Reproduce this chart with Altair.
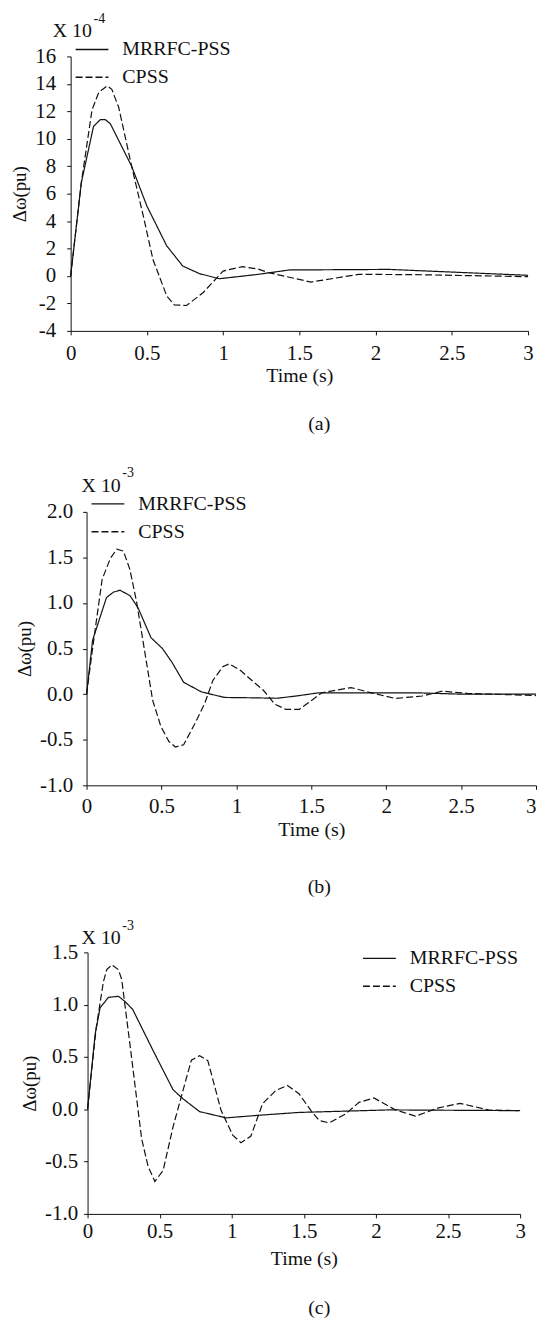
import altair as alt
import pandas as pd

FONT = "Liberation Serif"
INK = "#111111"
SERIES = ["MRRFC-PSS", "CPSS"]
X_TICKS = [0, 0.5, 1, 1.5, 2, 2.5, 3]

# ---------------- panel (a)  (x 10^-4) ----------------
a_t_mrrfc = [0, 0.07, 0.15, 0.195, 0.227, 0.26, 0.40, 0.50, 0.63, 0.735, 0.845, 0.975, 1.23, 1.435, 2.09, 3.0]
a_v_mrrfc = [0, 6.8, 10.9, 11.4, 11.4, 11.1, 8.0, 5.1, 2.2, 0.73, 0.17, -0.2, 0.12, 0.44, 0.48, 0.05]
a_t_cpss = [0, 0.07, 0.14, 0.185, 0.24, 0.27, 0.315, 0.40, 0.476, 0.54, 0.63, 0.68, 0.76, 0.87,
            1.0, 1.125, 1.23, 1.30, 1.576, 1.89, 2.26, 3.0]
a_v_cpss = [0, 6.8, 12.1, 13.4, 13.85, 13.6, 12.3, 8.0, 4.4, 1.2, -1.45, -2.1, -2.15, -1.2,
            0.36, 0.68, 0.5, 0.24, -0.44, 0.12, 0.1, -0.05]
a_yticks = [-4, -2, 0, 2, 4, 6, 8, 10, 12, 14, 16]

# ---------------- panel (b)  (x 10^-3) ----------------
b_t_mrrfc = [0, 0.04, 0.133, 0.18, 0.224, 0.29, 0.343, 0.43, 0.507, 0.57, 0.648, 0.767, 0.92,
             1.115, 1.27, 1.40, 1.55, 2.2, 2.5, 3.0]
b_v_mrrfc = [0, 0.59, 1.06, 1.12, 1.14, 1.08, 0.95, 0.62, 0.50, 0.35, 0.13, 0.025, -0.036,
             -0.04, -0.045, -0.02, 0.015, 0.015, 0.0, 0.0]
b_t_cpss = [0, 0.05, 0.104, 0.159, 0.202, 0.246, 0.289, 0.333, 0.387, 0.441, 0.496, 0.55, 0.593,
            0.648, 0.724, 0.789, 0.843, 0.909, 0.952, 1.028, 1.104, 1.18, 1.257, 1.33, 1.42,
            1.57, 1.766, 1.90, 2.06, 2.24, 2.375, 2.55, 2.85, 3.0]
b_v_cpss = [0, 0.62, 1.26, 1.49, 1.59, 1.57, 1.37, 1.02, 0.48, -0.065, -0.355, -0.52, -0.58,
            -0.555, -0.32, -0.10, 0.15, 0.30, 0.333, 0.26, 0.15, 0.043, -0.11, -0.167, -0.167,
            0.015, 0.072, 0.015, -0.047, -0.02, 0.033, 0.007, -0.007, -0.015]
b_yticks = [-1.0, -0.5, 0.0, 0.5, 1.0, 1.5, 2.0]

# ---------------- panel (c)  (x 10^-3) ----------------
c_t_mrrfc = [0, 0.053, 0.087, 0.145, 0.214, 0.26, 0.313, 0.455, 0.593, 0.662, 0.777, 0.96,
             1.19, 1.466, 2.09, 3.0]
c_v_mrrfc = [0, 0.72, 0.97, 1.07, 1.08, 1.03, 0.955, 0.56, 0.187, 0.10, -0.022, -0.082,
             -0.057, -0.03, -0.006, -0.013]
c_t_cpss = [0, 0.06, 0.11, 0.133, 0.168, 0.214, 0.237, 0.294, 0.375, 0.42, 0.467, 0.524, 0.593,
            0.662, 0.72, 0.777, 0.834, 0.926, 1.007, 1.064, 1.133, 1.214, 1.306, 1.386, 1.466,
            1.55, 1.607, 1.676, 1.79, 1.883, 1.986, 2.136, 2.274, 2.434, 2.584, 2.78, 2.986]
c_v_cpss = [0, 0.78, 1.22, 1.335, 1.38, 1.335, 1.24, 0.62, -0.28, -0.547, -0.69, -0.585, -0.168,
            0.18, 0.47, 0.513, 0.465, -0.01, -0.247, -0.32, -0.256, 0.054, 0.18, 0.228, 0.149,
            -0.013, -0.108, -0.13, -0.044, 0.066, 0.108, -0.006, -0.066, 0.013, 0.057, -0.006,
            -0.013]
c_yticks = [-1.0, -0.5, 0.0, 0.5, 1.0, 1.5]


def make_df(t1, v1, t2, v2):
    return pd.concat([
        pd.DataFrame({"t": t1, "v": v1, "s": SERIES[0]}),
        pd.DataFrame({"t": t2, "v": v2, "s": SERIES[1]}),
    ], ignore_index=True)


ONE = pd.DataFrame({"k": [0]})
HYPHEN = "replace(datum.label, '\u2212', '-')"


def txt(text, x, y, size, align="left"):
    return alt.Chart(ONE).mark_text(
        text=text, font=FONT, fontSize=size, color=INK, align=align, baseline="middle"
    ).encode(x=alt.value(x), y=alt.value(y))


def panel(df, c):
    # c["dx"], c["dy"]: offset of the data rectangle inside the group
    w, h, dx, dy = c["w"], c["h"], c["dx"], c["dy"]
    xkw = dict(values=X_TICKS, format="~g", title="Time (s)", labelFlush=False,
               labelPadding=c["xlp"], titlePadding=c["xtp"], titleFontSize=20)
    if c.get("flush_last"):
        xkw["labelAlign"] = {"condition": {"test": "datum.value == 3", "value": "right"},
                             "value": "center"}
    xax = alt.Axis(**xkw)
    ykw = dict(values=c["yticks"], format=c["fmt"], labelExpr=HYPHEN, title="Δω(pu)",
               labelPadding=c["ylp"], titlePadding=c["ytp"], titleFontSize=19)
    if dx:
        ykw["offset"] = alt.ExprRef(expr=str(-dx))
    yax = alt.Axis(**ykw)
    lines = alt.Chart(df).mark_line(color=INK, strokeWidth=1.2).encode(
        x=alt.X("t:Q", scale=alt.Scale(domain=[0, 3], nice=False, range=[dx, dx + w]), axis=xax),
        y=alt.Y("v:Q", scale=alt.Scale(domain=c["ydom"], nice=False, zero=False,
                                       range=[dy + h, dy]), axis=yax),
        strokeDash=alt.StrokeDash(
            "s:N",
            scale=alt.Scale(domain=SERIES, range=[[1, 0], [7, 3]]),
            legend=alt.Legend(
                orient="none", legendX=dx + c["lx"], legendY=dy + c["ly"], title=None,
                symbolType="stroke", symbolSize=1089, symbolStrokeWidth=1.4,
                symbolStrokeColor=INK, labelFont=FONT, labelFontSize=20,
                labelColor=INK, labelOffset=13, rowPadding=alt.ExprRef(expr="-6"),
                padding=0,
            ),
        ),
    )
    layers = [
        lines,
        txt("X 10", dx + c["x10"][0], dy + c["x10"][1], 20),
        txt(c["exp"], dx + c["sup"][0], dy + c["sup"][1], 14),
        txt(c["cap"], 250, dy + c["cap_y"], 20, align="center"),
    ]
    return alt.layer(*layers).properties(width=dx + w, height=dy + h)


# data rectangles (page px): a 70-530 x 53-329, b 86-538 x 511-786, c 87-522 x 954-1217
pa = panel(make_df(a_t_mrrfc, a_v_mrrfc, a_t_cpss, a_v_cpss), dict(
    w=460, h=276, dx=0, dy=0, ydom=[-4, 16], yticks=a_yticks, fmt="d",
    xlp=8, xtp=2, ylp=11, ytp=5, lx=4, ly=-24.5,
    x10=(-18, -26), sup=(23, -38), exp="-4", cap="(a)", cap_y=370))

pb = panel(make_df(b_t_mrrfc, b_v_mrrfc, b_t_cpss, b_v_cpss), dict(
    w=452, h=275, dx=16, dy=162, ydom=[-1, 2], yticks=b_yticks, fmt=".1f",
    xlp=6, xtp=3, ylp=10, ytp=5, lx=4, ly=-25.5, flush_last=True,
    x10=(-5, -26), sup=(36, -39), exp="-3", cap="(b)", cap_y=377))

pc = panel(make_df(c_t_mrrfc, c_v_mrrfc, c_t_cpss, c_v_cpss), dict(
    w=435, h=263, dx=17, dy=148, ydom=[-1, 1.5], yticks=c_yticks, fmt=".1f",
    xlp=3, xtp=7, ylp=6, ytp=5, lx=276, ly=-11.5,
    x10=(-6, -14), sup=(35, -27), exp="-3", cap="(c)", cap_y=358))

chart = alt.vconcat(pa, pb, pc, spacing=20, bounds="flush").resolve_scale(
    strokeDash="independent"
).resolve_legend(
    strokeDash="independent"
).properties(
    padding={"left": 3, "top": 0, "right": 0, "bottom": 0},
    background="white",
).configure_view(stroke=None).configure_axis(
    domainColor=INK, tickColor=INK, labelColor=INK, titleColor=INK,
    labelFont=FONT, titleFont=FONT, labelFontSize=21,
    titleFontWeight="normal", grid=False, tickSize=4, domainWidth=1, tickWidth=1,
)

chart.save("out.html", embed_options={"renderer": "svg", "actions": False})
